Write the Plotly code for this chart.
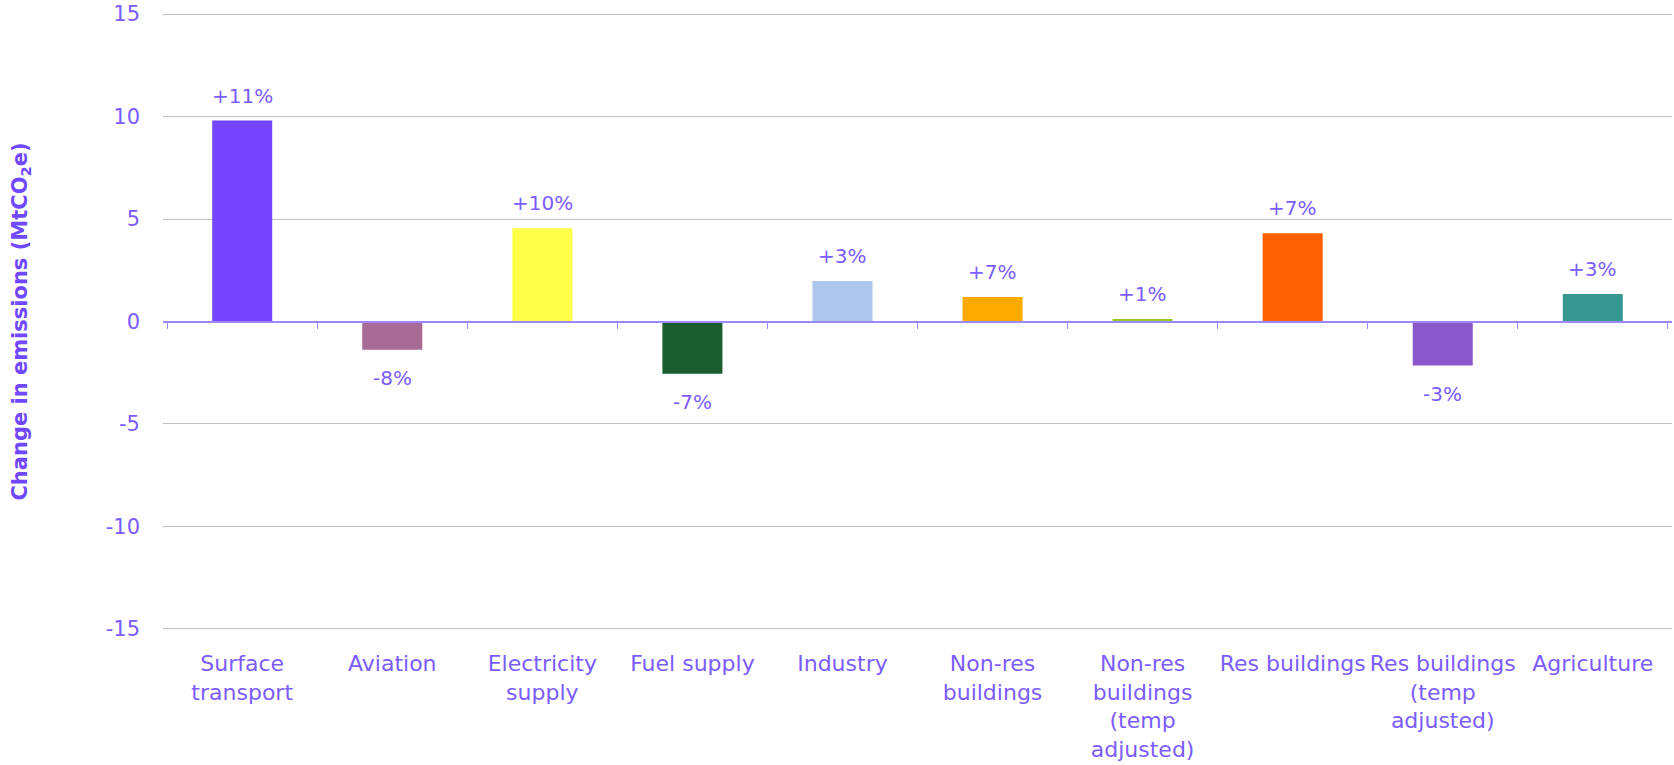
import plotly.graph_objects as go

categories = ["Surface<br>transport", "Aviation", "Electricity<br>supply", "Fuel supply", "Industry",
              "Non-res<br>buildings", "Non-res<br>buildings<br>(temp<br>adjusted)", "Res buildings",
              "Res buildings<br>(temp<br>adjusted)", "Agriculture"]
values = [9.8, -1.38, 4.55, -2.55, 1.98, 1.2, 0.12, 4.3, -2.15, 1.34]
pct_labels = ["+11%", "-8%", "+10%", "-7%", "+3%", "+7%", "+1%", "+7%", "-3%", "+3%"]
colors = ["#7444FF", "#A86B96", "#FFFF4A", "#1A5E2E", "#AEC6EC",
          "#FFAA00", "#9BCB1A", "#FF5F00", "#8B58CC", "#379893"]
y_ticks = [-15, -10, -5, 0, 5, 10, 15]

TEXT = "#7B5CFF"
FONT = "DejaVu Sans"

fig = go.Figure()
fig.add_trace(go.Bar(x=categories, y=values, marker=dict(color=colors, line=dict(width=0)),
                     width=0.4, hoverinfo="skip", xaxis="x", yaxis="y"))
# invisible helper trace so the zero-line axis with boundary ticks is drawn
fig.add_trace(go.Scatter(x=categories, y=values, mode="markers", marker=dict(opacity=0),
                         hoverinfo="skip", xaxis="x2", yaxis="y", showlegend=False))

for c, v, t in zip(categories, values, pct_labels):
    fig.add_annotation(x=c, y=v, xref="x", yref="y", text=t, showarrow=False,
                       yanchor="middle", yshift=25 if v >= 0 else -28,
                       font=dict(family=FONT, size=20, color=TEXT))

fig.update_layout(
    width=1674, height=765,
    margin=dict(l=163, r=2, t=13, b=135),
    paper_bgcolor="white", plot_bgcolor="white",
    showlegend=False,
    font=dict(family=FONT, size=22, color=TEXT),
    xaxis=dict(categoryorder="array", categoryarray=categories, showgrid=False, showline=False,
               ticks="", zeroline=False, tickfont=dict(family=FONT, size=22, color=TEXT),
               ticklabelstandoff=18, automargin=False, ticklabeloverflow="allow"),
    xaxis2=dict(overlaying="x", matches="x", anchor="free", position=0.5, side="bottom",
                showline=True, linecolor="#9C88FF", linewidth=1.5,
                ticks="outside", tickson="boundaries", ticklen=7, tickwidth=1.2, tickcolor="#9C88FF",
                showticklabels=False, showgrid=False, zeroline=False),
    yaxis=dict(range=[-15.05, 15.05], tickvals=y_ticks, ticktext=[str(v) for v in y_ticks],
               showgrid=True, gridcolor="#BFBFBF", gridwidth=1.3, zeroline=False,
               showline=False, ticks="", ticklabelstandoff=22, automargin=False,
               ticklabeloverflow="allow",
               tickfont=dict(family=FONT, size=21, color=TEXT),
               title=dict(text="<b>Change in emissions (MtCO<sub>2</sub>e)</b>", standoff=72,
                          font=dict(family=FONT, size=21, color="#7048FF"))),
)

fig.write_html("out.html", config={"displayModeBar": False},
               post_script="document.body.style.margin='0';")
